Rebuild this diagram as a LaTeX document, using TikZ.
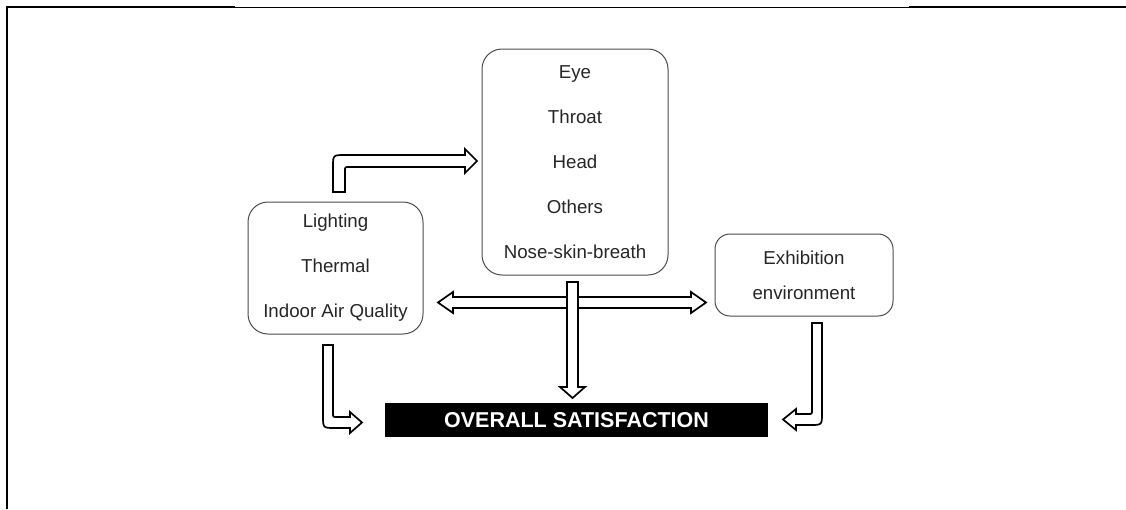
\documentclass[tikz,border=0pt]{standalone}
\usepackage{fontspec}
\setmainfont{Liberation Sans}
\begin{document}
\begin{tikzpicture}[x=1pt,y=-1pt,
  factorbox/.style={draw=black!70, line width=1pt, rounded corners=20pt, inner sep=0pt, align=center,
     font=\fontsize{18.7}{45}\selectfont, text=black!85},
  blockarrow/.style={draw=black, line width=1.7pt, fill=white, line join=miter},
  thickframe/.style={line width=2.4pt, black},
  thinframe/.style={line width=0.9pt, black}]
\useasboundingbox (0,0) rectangle (1126,509);
% frame
\draw[thickframe] (7,509) -- (7,7) -- (235,7);
\draw[thinframe] (235,7) -- (909,7);
\draw[thickframe] (909,7) -- (1126,7);

% boxes
\node[factorbox, minimum width=186pt, minimum height=226pt] (sym) at (575,162)
  {Eye\\Throat\\Head\\Others\\Nose-skin-breath};
\node[factorbox, minimum width=175pt, minimum height=132pt] (env) at (335.5,268)
  {Lighting\\Thermal\\Indoor Air Quality};
\node[factorbox, rounded corners=15pt, minimum width=178pt, minimum height=82pt,
      font=\fontsize{18.7}{35}\selectfont] (exh) at (804,275)
  {Exhibition\\environment};
\node[fill=black, minimum width=383pt, minimum height=34pt, inner sep=0pt,
      text=white, font=\fontsize{21.5}{24}\bfseries] (sat) at (576.5,420) {OVERALL SATISFACTION};

% elbow arrow: environment -> symptoms
\draw[blockarrow] (333,192) -- (333,167) .. controls (333,155) .. (345,155) -- (465,155)
  -- (465,149) -- (477,161) -- (465,173) -- (465,167) -- (349,167)
  .. controls (345,167) .. (345,171) -- (345,192) -- cycle;

% horizontal double arrow
\draw[blockarrow] (438,302.5) -- (453,292) -- (453,297) -- (691,297) -- (691,292)
  -- (706,302.5) -- (691,313) -- (691,308) -- (453,308) -- (453,313) -- cycle;

% vertical arrow symptoms -> satisfaction
\draw[blockarrow] (567,282) -- (578,282) -- (578,387) -- (585,387) -- (572.5,398)
  -- (560,387) -- (567,387) -- cycle;
% open crossing
\fill[white] (567.9,297.9) rectangle (577.1,307.1);

% left bent arrow
\draw[blockarrow] (323,345) -- (333,345) -- (333,413) .. controls (333,417) .. (337,417)
  -- (350,417) -- (350,412) -- (362,422.5) -- (350,433) -- (350,428) -- (335,428)
  .. controls (323,428) .. (323,416) -- cycle;

% right bent arrow
\draw[blockarrow] (812,323) -- (822,323) -- (822,413) .. controls (822,425) .. (810,425)
  -- (796,425) -- (796,430) -- (783,419.5) -- (796,409) -- (796,414) -- (808,414)
  .. controls (812,414) .. (812,410) -- cycle;
\end{tikzpicture}
\end{document}
